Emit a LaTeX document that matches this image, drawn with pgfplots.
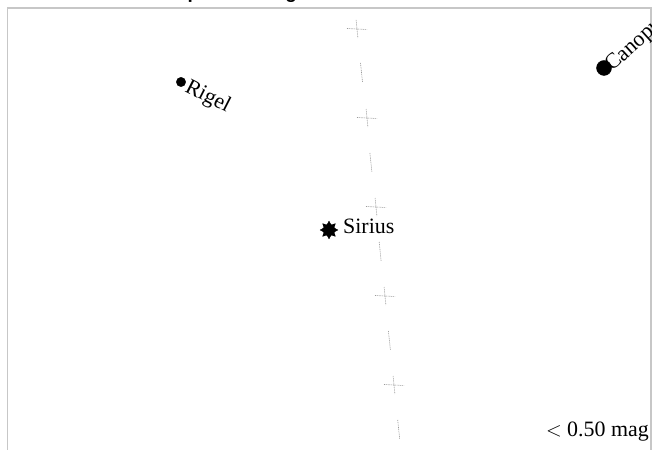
\documentclass[border=0pt]{standalone}
\usepackage{fontspec}
\setmainfont{Liberation Serif}
\newfontfamily\titlefont{Liberation Sans}
\usepackage{pgfplots}
\pgfplotsset{compat=1.18}

\pgfdeclareplotmark{star8}{%
  \pgfpathmoveto{\pgfpointpolar{90}{\pgfplotmarksize}}%
  \pgfpathlineto{\pgfpointpolar{112.5}{0.62\pgfplotmarksize}}%
  \pgfpathlineto{\pgfpointpolar{135}{\pgfplotmarksize}}%
  \pgfpathlineto{\pgfpointpolar{157.5}{0.62\pgfplotmarksize}}%
  \pgfpathlineto{\pgfpointpolar{180}{\pgfplotmarksize}}%
  \pgfpathlineto{\pgfpointpolar{202.5}{0.62\pgfplotmarksize}}%
  \pgfpathlineto{\pgfpointpolar{225}{\pgfplotmarksize}}%
  \pgfpathlineto{\pgfpointpolar{247.5}{0.62\pgfplotmarksize}}%
  \pgfpathlineto{\pgfpointpolar{270}{\pgfplotmarksize}}%
  \pgfpathlineto{\pgfpointpolar{292.5}{0.62\pgfplotmarksize}}%
  \pgfpathlineto{\pgfpointpolar{315}{\pgfplotmarksize}}%
  \pgfpathlineto{\pgfpointpolar{337.5}{0.62\pgfplotmarksize}}%
  \pgfpathlineto{\pgfpointpolar{0}{\pgfplotmarksize}}%
  \pgfpathlineto{\pgfpointpolar{22.5}{0.62\pgfplotmarksize}}%
  \pgfpathlineto{\pgfpointpolar{45}{\pgfplotmarksize}}%
  \pgfpathlineto{\pgfpointpolar{67.5}{0.62\pgfplotmarksize}}%
  \pgfpathclose
  \pgfusepathqfillstroke}

\begin{document}
\begin{tikzpicture}
\begin{axis}[
  x=1bp, y=1bp,
  xmin=7.5, xmax=651, ymin=-60, ymax=442,
  xtick=\empty, ytick=\empty,
  axis line style={draw=black!22, line width=1.6bp},
  unbounded coords=jump,
  clip=true,
]
% graticule (crosses and dashes)
\addplot[black!40, line width=0.6bp, dash pattern=on 1bp off 0.8bp] coordinates {
 (347,421.5) (367,420.5) (nan,nan)
 (356.1,430) (357.9,412) (nan,nan)
 (360.5,387) (362.5,368) (nan,nan)
 (357,332.5) (377,331.5) (nan,nan)
 (366.1,341) (367.9,323) (nan,nan)
 (369.9,297) (371.9,278) (nan,nan)
 (366,243.5) (386,242.5) (nan,nan)
 (375.1,252) (376.9,234) (nan,nan)
 (379.2,208) (381.1,189) (nan,nan)
 (375,154.5) (395,153.5) (nan,nan)
 (384.1,163) (385.9,145) (nan,nan)
 (388.4,119) (390.4,100) (nan,nan)
 (384,65.5) (404,64.5) (nan,nan)
 (393.1,74) (394.9,56) (nan,nan)
 (397.7,30) (399.7,11)
};
% stars
\addplot[only marks, mark=*, mark size=4.7bp, black] coordinates {(181,368)};
\addplot[only marks, mark=*, mark size=7.5bp, black] coordinates {(604,382)};
\addplot[only marks, mark=star8, mark size=9bp, black, line width=0.2bp] coordinates {(329,220)};
% labels
\node[anchor=base west, rotate=-27, inner sep=0pt, font=\fontsize{22}{24}\selectfont] at (axis cs:184,359) {Rigel};
\node[anchor=base west, rotate=42, inner sep=0pt, font=\fontsize{22}{24}\selectfont] at (axis cs:612,378) {Canopus};
\node[anchor=base west, fill=white, inner sep=1bp, font=\fontsize{22}{24}\selectfont] at (axis cs:342,216) {Sirius};
\node[anchor=base east, inner sep=0pt, font=\fontsize{22}{24}\selectfont] at (axis cs:649,13) {{$<$} 0.50 mag};
\coordinate (BL) at (axis cs:0,0);
\coordinate (TR) at (axis cs:656,450);
\coordinate (T) at (axis cs:118,451.5);
\end{axis}
\node[anchor=base west, inner sep=0pt, font=\titlefont\bfseries\fontsize{19}{21}\selectfont] at (T) {Star map of the brightest stars};
\pgfresetboundingbox
\path[use as bounding box] (BL) rectangle (TR);
\end{tikzpicture}
\end{document}
